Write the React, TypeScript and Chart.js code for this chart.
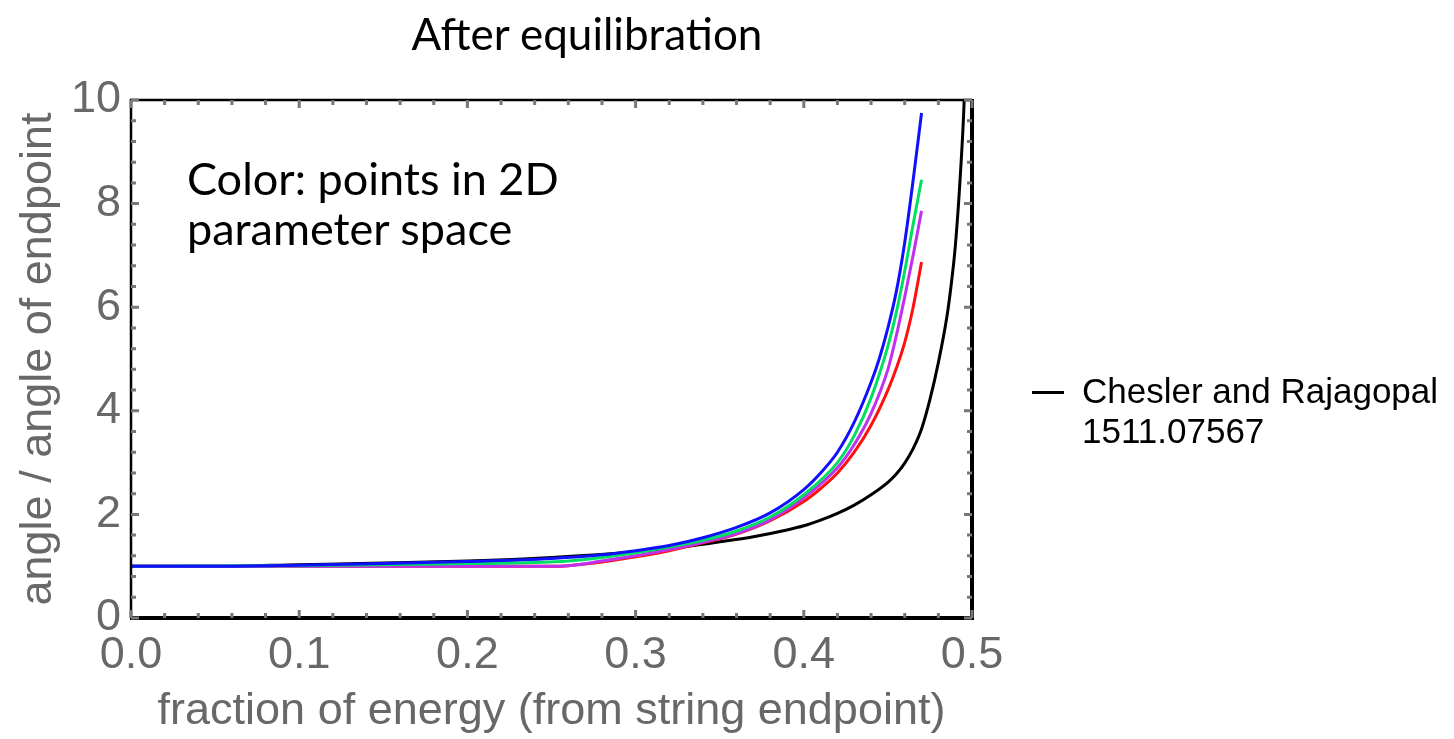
import React, { useEffect, useRef } from 'react';
import { Chart, registerables } from 'chart.js';

Chart.register(...registerables);

// ---- Data ----
const blueFraction = [0, 0.05, 0.1, 0.15, 0.2, 0.25, 0.28, 0.3, 0.32, 0.34, 0.36, 0.38, 0.4, 0.41, 0.42, 0.43, 0.44, 0.445, 0.45, 0.455, 0.46, 0.465, 0.47];
const blueAngle = [1.0, 1.0, 1.02, 1.05, 1.09, 1.15, 1.22, 1.3, 1.4, 1.55, 1.75, 2.03, 2.48, 2.8, 3.2, 3.78, 4.55, 5.02, 5.6, 6.3, 7.25, 8.45, 9.75];

const greenFraction = [0, 0.1, 0.2, 0.24, 0.26, 0.28, 0.3, 0.32, 0.34, 0.36, 0.38, 0.4, 0.42, 0.43, 0.44, 0.45, 0.455, 0.46, 0.465, 0.47];
const greenAngle = [1.0, 1.01, 1.05, 1.07, 1.1, 1.17, 1.26, 1.37, 1.5, 1.68, 1.95, 2.38, 3.0, 3.52, 4.25, 5.25, 5.9, 6.7, 7.6, 8.46];

const magentaFraction = [0, 0.1, 0.2, 0.25, 0.26, 0.28, 0.3, 0.32, 0.34, 0.36, 0.38, 0.4, 0.42, 0.43, 0.44, 0.45, 0.455, 0.46, 0.465, 0.47];
const magentaAngle = [1.0, 1.0, 1.0, 1.0, 1.01, 1.1, 1.2, 1.32, 1.46, 1.63, 1.9, 2.32, 2.9, 3.35, 3.95, 4.8, 5.45, 6.2, 7.0, 7.86];

const redFraction = [0, 0.1, 0.2, 0.25, 0.26, 0.28, 0.3, 0.32, 0.34, 0.36, 0.38, 0.4, 0.41, 0.42, 0.43, 0.44, 0.45, 0.455, 0.46, 0.465, 0.47];
const redAngle = [1.0, 1.0, 1.0, 1.0, 1.01, 1.08, 1.18, 1.3, 1.45, 1.62, 1.88, 2.25, 2.5, 2.8, 3.2, 3.72, 4.4, 4.82, 5.32, 6.0, 6.87];

const cheslerFraction = [0, 0.05, 0.1, 0.15, 0.2, 0.25, 0.3, 0.33, 0.35, 0.37, 0.39, 0.4, 0.41, 0.42, 0.43, 0.44, 0.45, 0.455, 0.46, 0.465, 0.47, 0.475, 0.48, 0.485, 0.4875, 0.49, 0.4925, 0.495, 0.4965];
const cheslerAngle = [1.0, 1.0, 1.03, 1.06, 1.1, 1.17, 1.28, 1.38, 1.47, 1.57, 1.7, 1.78, 1.89, 2.02, 2.18, 2.38, 2.62, 2.78, 2.99, 3.27, 3.65, 4.22, 4.93, 5.8, 6.4, 7.15, 8.25, 9.7, 11];

const xTickLabels = ['0.0', '0.1', '0.2', '0.3', '0.4', '0.5'];
const yTickLabels = ['0', '2', '4', '6', '8', '10'];

const titleText = 'After equilibration';
const noteLines = ['Color: points in 2D', 'parameter space'];
const legendLines = ['Chesler and Rajagopal', '1511.07567'];
const xTitle = 'fraction of energy (from string endpoint)';
const yTitle = 'angle / angle of endpoint';

const toPoints = (xs: number[], ys: number[]) => xs.map((x, i) => ({ x, y: ys[i] }));

const AXIS_FONT = '"Liberation Sans", Arial, Helvetica, sans-serif';
const GRAY = '#686868';

const framePlugin = {
  id: 'mmaFrame',
  afterDatasetsDraw(chart: any) {
    const { ctx, chartArea: a, scales } = chart;
    const xs = scales.x;
    const ys = scales.y;
    ctx.save();
    // frame
    ctx.strokeStyle = '#000';
    ctx.lineWidth = 2.5;
    ctx.beginPath();
    ctx.moveTo(a.left, a.bottom);
    ctx.lineTo(a.left, a.top);
    ctx.lineTo(a.right, a.top);
    ctx.stroke();
    ctx.lineWidth = 4;
    ctx.beginPath();
    ctx.moveTo(a.right, a.top - 1);
    ctx.lineTo(a.right, a.bottom);
    ctx.lineTo(a.left - 1, a.bottom);
    ctx.stroke();
    // ticks
    ctx.strokeStyle = '#777';
    ctx.lineWidth = 3;
    ctx.beginPath();
    for (let i = 0; i <= 25; i++) {
      const px = xs.getPixelForValue(i * 0.02);
      const len = i % 5 === 0 ? 8 : 5;
      ctx.moveTo(px, a.bottom);
      ctx.lineTo(px, a.bottom - len);
      ctx.moveTo(px, a.top);
      ctx.lineTo(px, a.top + len);
    }
    for (let i = 0; i <= 25; i++) {
      const py = ys.getPixelForValue(i * 0.4);
      const len = i % 5 === 0 ? 8 : 5;
      ctx.moveTo(a.left, py);
      ctx.lineTo(a.left + len, py);
      ctx.moveTo(a.right, py);
      ctx.lineTo(a.right - len, py);
    }
    ctx.stroke();
    ctx.restore();
  },
};

export default function App() {
  const canvasRef = useRef<HTMLCanvasElement | null>(null);

  useEffect(() => {
    if (!canvasRef.current) return;
    const chart = new Chart(canvasRef.current, {
      type: 'line',
      data: {
        datasets: [
          { label: 'blue', data: toPoints(blueFraction, blueAngle), borderColor: '#1010ff' },
          { label: 'green', data: toPoints(greenFraction, greenAngle), borderColor: '#00e060' },
          { label: 'magenta', data: toPoints(magentaFraction, magentaAngle), borderColor: '#c030f0' },
          { label: 'red', data: toPoints(redFraction, redAngle), borderColor: '#ff1010' },
          { label: legendLines.join(' '), data: toPoints(cheslerFraction, cheslerAngle), borderColor: '#000000' },
        ],
      },
      options: {
        animation: false,
        responsive: false,
        maintainAspectRatio: false,
        layout: { padding: { left: 0, top: 100, right: 482, bottom: 0 } },
        plugins: { legend: { display: false }, tooltip: { enabled: false } },
        elements: {
          point: { radius: 0 },
          line: { borderWidth: 3, cubicInterpolationMode: 'monotone', fill: false },
        },
        scales: {
          x: {
            type: 'linear',
            min: 0,
            max: 0.5,
            grid: { display: false, drawTicks: false },
            border: { display: false },
            ticks: {
              stepSize: 0.1,
              color: GRAY,
              padding: 11,
              maxRotation: 0,
              font: { family: AXIS_FONT, size: 45 },
              callback: (v: any) => xTickLabels[Math.round(Number(v) * 10)] ?? '',
            },
            title: {
              display: true,
              text: xTitle,
              color: GRAY,
              font: { family: AXIS_FONT, size: 45 },
              padding: { top: 0, bottom: 0 },
            },
            afterFit: (s: any) => {
              s.height = 121;
            },
          },
          y: {
            type: 'linear',
            min: 0,
            max: 10,
            grid: { display: false, drawTicks: false },
            border: { display: false },
            ticks: {
              stepSize: 2,
              color: GRAY,
              padding: 10,
              font: { family: AXIS_FONT, size: 45 },
              callback: (v: any) => yTickLabels[Math.round(Number(v) / 2)] ?? '',
            },
            title: {
              display: true,
              text: yTitle,
              color: GRAY,
              font: { family: AXIS_FONT, size: 45 },
              padding: { top: 12, bottom: 0 },
            },
            afterFit: (s: any) => {
              s.width = 131;
            },
          },
        },
      },
      plugins: [framePlugin],
    } as any);
    return () => chart.destroy();
  }, []);

  const calibriLike = 'Lato, "Open Sans", sans-serif';
  return (
    <div style={{ position: 'absolute', left: 0, top: 0, width: 1454, height: 739, background: '#fff', overflow: 'hidden' }}>
      <canvas ref={canvasRef} width={1454} height={739} style={{ position: 'absolute', left: 0, top: 0, width: 1454, height: 739 }} />
      <div style={{ position: 'absolute', left: 587, top: 11, transform: 'translateX(-50%)', whiteSpace: 'nowrap', fontFamily: calibriLike, fontSize: 44, lineHeight: 1, color: '#000' }}>
        {titleText}
      </div>
      {noteLines.map((t, i) => (
        <div key={t} style={{ position: 'absolute', left: 187, top: 156 + i * 50, whiteSpace: 'nowrap', fontFamily: calibriLike, fontSize: 45, lineHeight: 1, color: '#000' }}>
          {t}
        </div>
      ))}
      <div style={{ position: 'absolute', left: 1032, top: 391, width: 32, height: 3, background: '#000' }} />
      {legendLines.map((t, i) => (
        <div key={t} style={{ position: 'absolute', left: 1082, top: 373 + i * 40, whiteSpace: 'nowrap', fontFamily: AXIS_FONT, fontSize: 35, lineHeight: 1, color: '#000' }}>
          {t}
        </div>
      ))}
    </div>
  );
}
